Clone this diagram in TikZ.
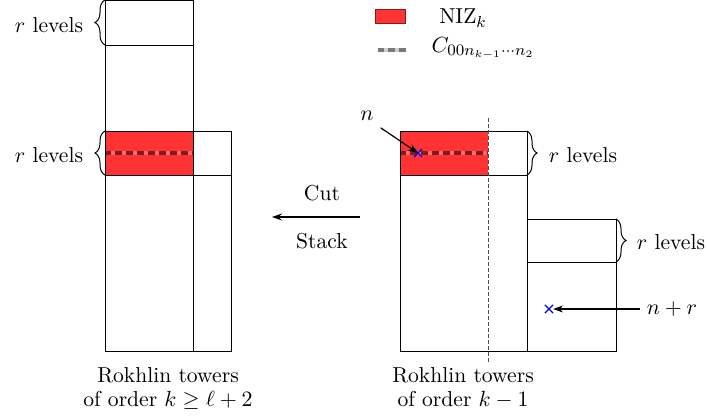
\documentclass[tikz,border=0pt]{standalone}
\usetikzlibrary{decorations.pathreplacing,shapes.misc,arrows.meta}
\definecolor{bandred}{RGB}{255,51,51}
\definecolor{darkband}{RGB}{125,28,28}
\definecolor{lightband}{RGB}{255,105,105}
\definecolor{legdark}{RGB}{120,120,120}
\definecolor{leglight}{RGB}{205,205,205}
\begin{document}
\begin{tikzpicture}[x=0.5pt,y=-0.5pt,
  every node/.style={font=\fontsize{10.8}{11}\selectfont},
  box/.style={draw=black, line width=0.5pt},
  brc/.style={decorate, decoration={brace, amplitude=5pt}, line width=0.5pt},
  xmark/.style={cross out, draw=blue, minimum size=3.5pt, inner sep=0pt, line width=0.6pt},
  arr/.style={-{Stealth[length=5pt,width=3.5pt]}, line width=0.6pt},
  capline/.style={anchor=base, inner sep=0pt},
  darkline/.style={line width=2.4pt, darkband},
  lightdash/.style={line width=2.4pt, lightband, dash pattern=on 1.75pt off 3.75pt, dash phase=-3pt}]
\useasboundingbox (0,0) rectangle (707,418);

% ---------- left towers ----------
\fill[bandred] (105,131) rectangle (193,175);
\draw[darkline] (105,153) -- (193,153);
\draw[lightdash] (105,153) -- (193,153);
\draw[box] (105,0) rectangle (193,351);
\draw[box] (105,45) -- (193,45);
\draw[box] (105,131) -- (193,131);
\draw[box] (105,175) -- (193,175);
\draw[box] (193,131) rectangle (231,351);
\draw[box] (193,175) -- (231,175);

\draw[brc] (105,45) -- (105,0);
\node (rl1) at (49,25) {$r$ levels};
\draw[brc] (105,175) -- (105,131);
\node (rl2) at (49,155) {$r$ levels};

\node[capline] (capL1) at (168,382) {Rokhlin towers};
\node[capline] (capL2) at (168,406) {of order $k\geq \ell+2$};

% ---------- cut / stack ----------
\coordinate (cutR) at (360,217);
\coordinate (cutL) at (272,217);
\draw[arr] (cutR) -- (cutL);
\node (cut) at (322,193) {Cut};
\node (stack) at (322,241) {Stack};

% ---------- right towers ----------
\fill[bandred] (400,131) rectangle (488,175);
\draw[darkline] (400,153) -- (488,153);
\draw[lightdash] (400,153) -- (488,153);
\draw[box] (400,131) rectangle (527,351);
\draw[box] (400,175) -- (527,175);
\draw[box] (527,219) rectangle (616,351);
\draw[box] (527,262) -- (616,262);
\draw[black!70, line width=0.5pt, dash pattern=on 2pt off 1pt] (488,118) -- (488,362);

\draw[brc] (527,131) -- (527,175);
\node (rl3) at (583,155) {$r$ levels};
\draw[brc] (616,219) -- (616,262);
\node (rl4) at (671,242) {$r$ levels};

\node[xmark] (x1) at (418,153) {};
\node (n) at (367,116) {$n$};
\draw[arr] (n.south east) -- (x1.center);

\node[xmark] (x2) at (549,309) {};
\node (nr) at (672,309) {$n+r$};
\draw[arr] (nr.west) -- (x2.east);

\node[capline] (capR1) at (463,382) {Rokhlin towers};
\node[capline] (capR2) at (463,406) {of order $k-1$};

% ---------- legend ----------
\node[draw=darkband, fill=bandred, minimum width=15pt, minimum height=7pt, inner sep=0pt, line width=0.5pt] (legR) at (390,16) {};
\node (legRt) at (463,18) {NIZ$_k$};
\coordinate (legA) at (378,50);
\coordinate (legB) at (406,50);
\draw[line width=2.4pt, legdark] (legA) -- (legB);
\draw[line width=2.4pt, leglight, dash pattern=on 1.75pt off 3.75pt, dash phase=-3pt] (legA) -- (legB);
\node (legCt) at (483,48) {$C_{00n_{k-1}\cdots n_2}$};
\end{tikzpicture}
\end{document}
